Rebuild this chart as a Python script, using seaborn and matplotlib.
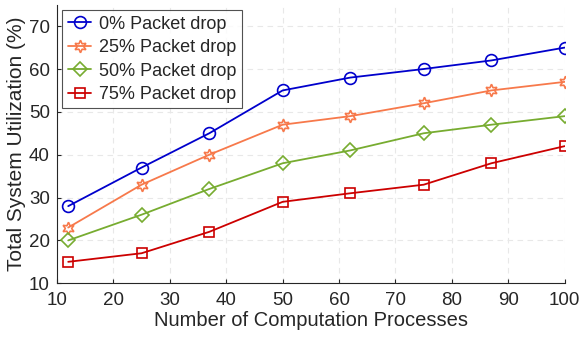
import matplotlib
matplotlib.use('Agg')
import matplotlib.pyplot as plt
import seaborn as sns

processes = [12, 25, 37, 50, 62, 75, 87, 100]
drop_0 = [28, 37, 45, 55, 58, 60, 62, 65]
drop_25 = [23, 33, 40, 47, 49, 52, 55, 57]
drop_50 = [20, 26, 32, 38, 41, 45, 47, 49]
drop_75 = [15, 17, 22, 29, 31, 33, 38, 42]
labels = ['0% Packet drop', '25% Packet drop', '50% Packet drop', '75% Packet drop']

sns.set_style('white')
plt.rcParams['font.family'] = ['Liberation Sans', 'DejaVu Sans']

fig, ax = plt.subplots(figsize=(5.81, 3.38), dpi=100)

styles = [
    (drop_0, '#0000CC', 'o', 8.5),
    (drop_25, '#F7794B', (6, 1, 0), 9),
    (drop_50, '#77AC30', 'D', 7),
    (drop_75, '#CC0000', 's', 7),
]
for (vals, color, marker, ms), label in zip(styles, labels):
    sns.lineplot(x=processes, y=vals, ax=ax, color=color, marker=marker,
                 markersize=ms, markerfacecolor='none', markeredgecolor=color,
                 markeredgewidth=1.2, linewidth=1.3, label=label)

ax.set_xlim(10, 100)
ax.set_ylim(10, 75)
ax.set_xticks(range(10, 101, 10))
ax.set_yticks(range(10, 71, 10))
ax.grid(True, linestyle=(0, (5, 4)), color='#e8e8e8', linewidth=0.8)
ax.tick_params(axis='x', pad=6)
ax.tick_params(axis='y', pad=5)
ax.tick_params(labelsize=13.5, colors='#262626', direction='in', length=3, left=True, bottom=True)
ax.set_xlabel('Number of Computation Processes', fontsize=14.5, color='#262626', labelpad=2)
ax.set_ylabel('Total System Utilization (%)', fontsize=15, color='#262626', labelpad=2)
for side in ['top', 'right']:
    ax.spines[side].set_visible(False)
for side in ['left', 'bottom']:
    ax.spines[side].set_color('#262626')
    ax.spines[side].set_linewidth(0.8)

leg = ax.legend(loc='upper left', fontsize=13, frameon=True, fancybox=False,
                edgecolor='#262626', handlelength=1.3, handletextpad=0.45,
                borderaxespad=0.3, labelspacing=0.36, borderpad=0.3)
leg.get_frame().set_linewidth(0.8)

fig.subplots_adjust(left=0.098, right=0.972, top=0.986, bottom=0.162)
fig.savefig('out.png', dpi=100)
